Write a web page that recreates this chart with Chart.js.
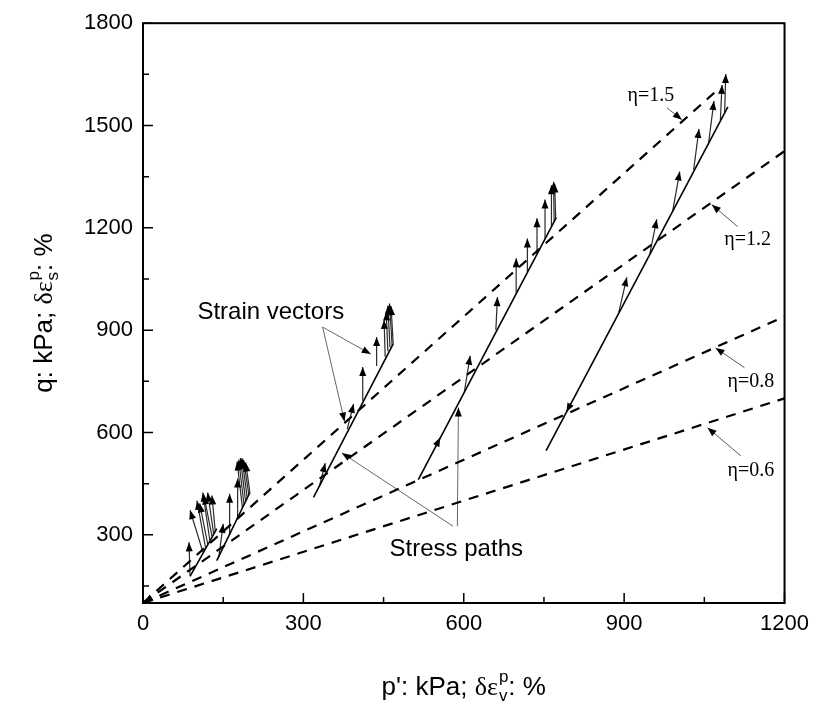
<!DOCTYPE html>
<html>
<head>
<meta charset="utf-8">
<script src="https://cdn.jsdelivr.net/npm/chart.js@4.4.1/dist/chart.umd.min.js"></script>
<style>
  html, body { margin: 0; padding: 0; background: #fff; }
  #wrap { width: 817px; height: 709px; }
</style>
</head>
<body>
<div id="wrap"><canvas id="chart" width="817" height="709"></canvas></div>
<script>
// Оси
const xTicks = [0, 300, 600, 900, 1200];
const yTicks = [300, 600, 900, 1200, 1500, 1800];

// Линии η (начало, конец), подписи и стрелки-указатели
const etaLabels = ['η=1.5', 'η=1.2', 'η=0.8', 'η=0.6'];
const etaFrom = [[0, 100], [0, 100], [0, 100], [0, 100]];
const etaTo = [[1075, 1605], [1200, 1425], [1200, 940], [1200, 700]];
const etaTextAt = [[950, 1587], [1131, 1166], [1137, 749], [1137, 489]];
const etaPointerFrom = [[980, 1552], [1112, 1204], [1125, 790], [1118, 532]];
const etaPointerTo = [[1008, 1517], [1064, 1268], [1071, 848], [1056, 614]];

// Пути напряжений
const pathFrom = [[88, 178], [138, 224], [319, 410], [515, 462], [754, 547]];
const pathTo = [[138, 318], [200, 424], [468, 860], [773, 1230], [1094, 1555]];

// Векторы деформаций: [p0, q0, p1, q1]
const vectors1 = [
    [88, 180, 86, 278], [112, 250, 88, 372], [117, 262, 101, 400], [121, 273, 106, 392],
    [125, 284, 112, 424], [129, 296, 114, 415], [132, 304, 121, 424], [135, 312, 129, 415]
];
const vectors2 = [
    [142, 236, 150, 332], [162, 300, 162, 420], [177, 348, 177, 465], [186, 378, 176, 515],
    [189, 388, 179, 520], [192, 398, 182, 525], [195, 408, 185, 525], [198, 418, 188, 520],
    [200, 424, 192, 512]
];
const vectors3 = [
    [330, 443, 341, 510], [382, 610, 394, 684], [411, 693, 411, 792], [437, 795, 437, 880],
    [453, 822, 451, 930], [458, 838, 455, 955], [462, 850, 458, 972], [466, 856, 461, 978],
    [468, 860, 464, 970]
];
const vectors4 = [
    [601, 718, 612, 825], [660, 900, 663, 997], [698, 1010, 698, 1111], [719, 1070, 719, 1169],
    [737, 1123, 737, 1228], [752, 1168, 752, 1283], [765, 1207, 764, 1325], [769, 1219, 768, 1335],
    [772, 1227, 770, 1330]
];
const vectors5 = [
    [890, 952, 905, 1055], [948, 1124, 961, 1225], [991, 1251, 1004, 1365], [1030, 1370, 1040, 1490],
    [1058, 1450, 1068, 1572], [1080, 1515, 1083, 1619], [1088, 1539, 1090, 1651]
];
// маленькие стрелки направления на путях
const pathMarks = [[548, 560, 556, 585], [800, 684, 792, 660], [12, 112, 2, 102]];

// Подписи-выноски
const notes = ['Strain vectors', 'Stress paths'];
const noteAt = [[239, 953], [586, 258]];
const notePointerFrom = [[336, 909], [336, 909], [580, 325], [588, 325]];
const notePointerTo = [[377, 632], [426, 830], [372, 540], [590, 673]];

function seg(a, b) {
    return [{ x: a[0], y: a[1] }, { x: b[0], y: b[1] }];
}

const datasets = [];
etaFrom.forEach((f, i) => datasets.push({
    data: seg(f, etaTo[i]), borderColor: '#000', borderWidth: 2.2, borderDash: [10, 8]
}));
etaPointerFrom.forEach((f, i) => datasets.push({
    data: seg(f, etaPointerTo[i]), borderColor: '#555', borderWidth: 1, arrow: true
}));
pathFrom.forEach((f, i) => datasets.push({
    data: seg(f, pathTo[i]), borderColor: '#000', borderWidth: 1.6
}));
[vectors1, vectors2, vectors3, vectors4, vectors5, pathMarks].flat().forEach(v => datasets.push({
    data: seg([v[0], v[1]], [v[2], v[3]]), borderColor: '#2a2a2a', borderWidth: 1.2, arrow: true
}));
notePointerFrom.forEach((f, i) => datasets.push({
    data: seg(f, notePointerTo[i]), borderColor: '#666', borderWidth: 1, arrow: true
}));

function head(ctx, x0, y0, x1, y1, len, half) {
    const a = Math.atan2(y1 - y0, x1 - x0);
    const c = Math.cos(a), s = Math.sin(a);
    ctx.beginPath();
    ctx.moveTo(x1, y1);
    ctx.lineTo(x1 - len * c + half * s, y1 - len * s - half * c);
    ctx.lineTo(x1 - len * c - half * s, y1 - len * s + half * c);
    ctx.closePath();
    ctx.fill();
}

// текст с индексами: части [текст, шрифт] или {sub, sup}
function richWidth(ctx, parts) {
    let w = 0;
    parts.forEach(p => {
        if (p.sub) {
            ctx.font = p.font;
            w += Math.max(ctx.measureText(p.sub).width, ctx.measureText(p.sup).width) + 1;
        } else {
            ctx.font = p[1];
            w += ctx.measureText(p[0]).width;
        }
    });
    return w;
}
function drawRich(ctx, parts, x, y) {
    let cx = x;
    parts.forEach(p => {
        if (p.sub) {
            ctx.font = p.font;
            ctx.fillText(p.sup, cx + 1, y - 13);
            ctx.fillText(p.sub, cx + 1, y + 6);
            cx += Math.max(ctx.measureText(p.sub).width, ctx.measureText(p.sup).width) + 1;
        } else {
            ctx.font = p[1];
            ctx.fillText(p[0], cx, y);
            cx += ctx.measureText(p[0]).width;
        }
    });
}

const sans = '"Liberation Sans", Arial, sans-serif';
const serif = '"Liberation Serif", "Times New Roman", serif';

const decor = {
    id: 'decor',
    afterDatasetsDraw(chart) {
        const ctx = chart.ctx;
        const xs = chart.scales.x, ys = chart.scales.y;
        const area = chart.chartArea;
        ctx.save();
        // наконечники
        ctx.fillStyle = '#000';
        chart.data.datasets.forEach((ds, i) => {
            if (!ds.arrow) return;
            const pts = chart.getDatasetMeta(i).data;
            head(ctx, pts[0].x, pts[0].y, pts[1].x, pts[1].y, 9, 3.5);
        });
        // подписи η
        ctx.font = '20px ' + serif;
        ctx.textAlign = 'center';
        ctx.textBaseline = 'middle';
        etaLabels.forEach((t, i) => {
            ctx.fillText(t, xs.getPixelForValue(etaTextAt[i][0]), ys.getPixelForValue(etaTextAt[i][1]));
        });
        ctx.font = '24px ' + sans;
        notes.forEach((t, i) => {
            ctx.fillText(t, xs.getPixelForValue(noteAt[i][0]), ys.getPixelForValue(noteAt[i][1]));
        });
        // рамка и засечки
        ctx.strokeStyle = '#000';
        ctx.lineWidth = 2;
        ctx.strokeRect(area.left, area.top, area.right - area.left, area.bottom - area.top);
        ctx.lineWidth = 1.5;
        ctx.beginPath();
        for (let v = 0; v <= 1200; v += 150) {
            const px = xs.getPixelForValue(v);
            ctx.moveTo(px, area.bottom);
            ctx.lineTo(px, area.bottom - (v % 300 === 0 ? 10 : 6));
        }
        for (let v = 150; v <= 1800; v += 150) {
            const py = ys.getPixelForValue(v);
            ctx.moveTo(area.left, py);
            ctx.lineTo(area.left + (v % 300 === 0 ? 10 : 6), py);
        }
        ctx.stroke();
        ctx.restore();
    },
    afterDraw(chart) {
        const ctx = chart.ctx;
        const area = chart.chartArea;
        ctx.save();
        ctx.fillStyle = '#000';
        ctx.textAlign = 'left';
        ctx.textBaseline = 'alphabetic';
        const subFont = '17px ' + sans;
        const xParts = [["p': kPa; ", '26px ' + sans], ['δε', '26px ' + serif], { sub: 'v', sup: 'p', font: subFont }, [': %', '26px ' + sans]];
        const yParts = [['q: kPa; ', '26px ' + sans], ['δε', '26px ' + serif], { sub: 's', sup: 'p', font: subFont }, [': %', '26px ' + sans]];
        const cx = (area.left + area.right) / 2;
        drawRich(ctx, xParts, cx - richWidth(ctx, xParts) / 2, 695);
        ctx.translate(52, (area.top + area.bottom) / 2);
        ctx.rotate(-Math.PI / 2);
        drawRich(ctx, yParts, -richWidth(ctx, yParts) / 2, 0);
        ctx.restore();
    }
};

new Chart(document.getElementById('chart'), {
    type: 'line',
    data: { datasets },
    options: {
        responsive: false,
        animation: false,
        devicePixelRatio: 1,
        layout: { padding: { left: 0, top: 21, right: 31, bottom: 0 } },
        elements: { point: { radius: 0 }, line: { tension: 0 } },
        plugins: { legend: { display: false }, tooltip: { enabled: false } },
        scales: {
            x: {
                type: 'linear', min: 0, max: 1200,
                afterBuildTicks: s => { s.ticks = xTicks.map(v => ({ value: v })); },
                afterFit: s => { s.height = 106; },
                grid: { display: false, drawTicks: false },
                border: { display: false },
                ticks: { color: '#000', padding: 8, maxRotation: 0, font: { family: sans, size: 22 }, callback: v => String(v) }
            },
            y: {
                type: 'linear', min: 100, max: 1800,
                afterBuildTicks: s => { s.ticks = yTicks.map(v => ({ value: v })); },
                afterFit: s => { s.width = 143; },
                grid: { display: false, drawTicks: false },
                border: { display: false },
                ticks: { color: '#000', padding: 10, font: { family: sans, size: 22 }, callback: v => String(v) }
            }
        }
    },
    plugins: [decor]
});
</script>
</body>
</html>
